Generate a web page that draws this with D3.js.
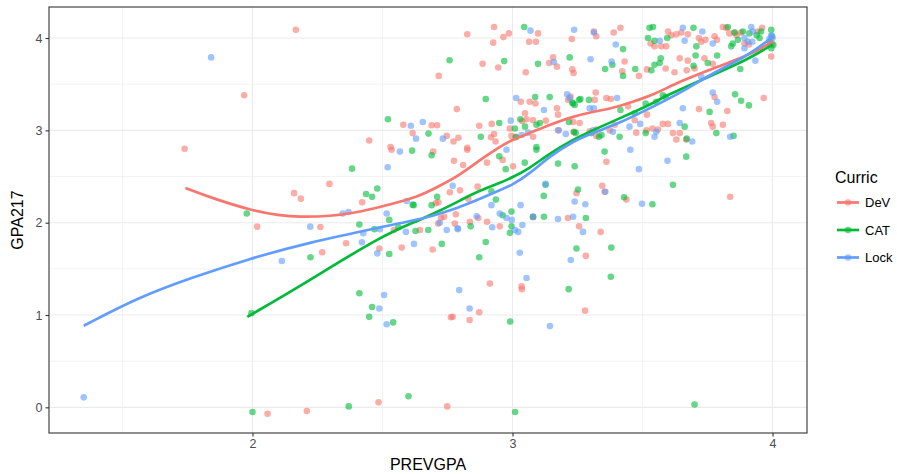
<!DOCTYPE html>
<html><head><meta charset="utf-8">
<script src="https://cdn.jsdelivr.net/npm/d3@7"></script>
<style>body{margin:0;background:#fff}svg{display:block;font-family:"Liberation Sans",Arial,Helvetica,sans-serif}</style>
</head><body><svg id="c" width="897" height="474"></svg>
<script>
const categories = ["DeV","CAT","Lock"];
const colors = ["#F8766D","#00BA38","#619CFF"];
const xTicks = [2,3,4];
const yTicks = [0,1,2,3,4];
const xTitle = "PREVGPA", yTitle = "GPA217", legendTitle = "Curric";

// scatter points [PREVGPA, GPA217]
const devPoints = [[2.167,4.09],[1.968,3.38],[1.739,2.80],[2.449,2.89],[2.296,2.42],[2.160,2.32],[2.186,2.26],[2.422,2.22],
[2.018,1.957],[2.261,1.953],[2.36,1.777],[2.268,1.68],[2.488,1.72],[2.058,-0.07],[2.209,-0.04],[2.485,0.054],
[3.036,1.28],[2.872,1.03],[3.279,1.047],[2.763,0.975],[2.77,0.98],[2.835,0.946],[2.749,0.01],
[2.535,2.79],[2.695,2.77],[2.826,2.79],[2.775,2.67],[2.81,2.625],[2.902,2.65],[2.962,2.68],[3.002,2.61],[2.759,2.33],[2.798,2.35],[2.866,2.39],[2.83,2.26],[2.705,2.21],[2.715,2.22],[2.782,2.09],[2.737,2.065],[2.725,2.05],[2.714,1.99],[2.778,1.99],[2.836,2.01],[2.868,2.05],[2.902,2.01],[2.951,1.96],[2.693,1.71],[2.574,1.73],[2.644,1.92],[2.544,1.92],[2.913,1.34],[3.035,1.31],[3.079,2.06],
[2.929,4.12],[3.098,4.05],[2.826,4.04],[2.986,4.05],[2.965,4.01],[2.926,3.95],[3.064,3.96],[3.09,3.96],[2.885,3.72],[2.945,3.68],[3.051,3.63],[2.716,3.59],[2.786,3.23],[3.032,3.31],[3.066,3.31],[3.088,3.29],[3.048,3.185],[2.58,3.06],[2.689,3.055],[2.71,3.055],[2.616,2.97],[2.747,2.94],[2.773,2.88],[2.792,2.92],[2.872,3.05],[2.92,3.07],[3.037,3.10],[3.054,3.12],[3.079,3.11],[2.99,3.02],[2.917,2.925],[2.929,2.96],[2.935,2.88],[2.996,2.94],[3.013,2.93],[3.079,2.93],[2.826,2.81],[2.531,2.82],
[3.214,3.33],[3.175,3.17],[3.171,3.24],[3.322,2.94],[3.393,3.06],[3.361,2.66],[3.246,2.32],[3.345,2.40],[3.354,2.335],[3.213,2.05],[3.339,1.90],[3.235,2.98],
[3.228,3.99],[3.313,4.07],[3.322,4.02],[3.389,4.06],[3.415,4.11],[3.156,3.79],[3.141,3.73],[3.171,3.69],[3.23,3.66],[3.235,3.62],[3.431,3.745],[3.422,3.64],[3.486,3.59],[3.531,3.94],[3.546,3.91],[3.572,3.91],[3.591,3.91],[3.598,4.07],[3.611,4.03],[3.63,4.04],[3.517,3.66],[3.589,3.67],[3.623,3.63],[3.128,3.105],[3.223,3.365],[3.32,3.41],[3.316,3.33],[3.361,3.35],[3.378,3.34],[3.444,3.26],[3.47,3.11],[3.517,3.17],[3.297,2.99],[3.322,3.01],[3.374,3.00],[3.476,2.975],[3.515,3.00],[3.538,3.02],[3.559,3.01],[3.578,3.07],[3.598,3.07],[3.617,2.97],[3.63,2.90],[3.175,3.00],[3.233,3.09],[3.258,3.08],
[3.649,4.06],[3.674,4.04],[3.717,4.0],[3.726,3.96],[3.742,3.98],[3.777,4.02],[3.786,3.98],[3.809,4.12],[3.822,4.11],[3.834,4.05],[3.854,4.06],[3.862,4.03],[3.879,4.06],[3.892,3.94],[3.909,3.93],[3.943,4.07],[3.96,4.11],[3.998,3.94],[3.995,3.80],[3.643,3.78],[3.674,3.755],[3.70,3.67],[3.738,3.78],[3.77,3.72],[3.67,3.65],[3.777,3.36],[3.966,3.35],[3.717,3.23],[3.826,3.21],[3.764,3.08],[3.77,3.04],[3.809,3.06],[3.643,2.97],[3.668,2.90],
[3.438,2.25],[3.256,1.96],[3.282,1.64],[3.837,2.28]];

const catPoints = [[2.383,2.585],[2.437,2.31],[2.46,2.28],[2.48,2.37],[1.978,2.10],
[2.411,1.98],[2.469,1.93],[2.223,1.625],[2.411,1.235],[2.46,1.087],[2.449,0.98],[2.0,-0.05],[2.37,0.01],[1.996,1.02],
[2.60,0.12],[3.01,-0.05],[3.70,0.03],[3.216,1.28],[2.541,0.92],[2.991,0.93],
[2.614,2.78],[2.689,2.73],[2.949,2.72],[3.047,2.65],[2.974,2.58],[3.092,2.79],[2.71,2.28],[2.616,2.195],[2.62,2.19],[2.689,2.19],[2.839,1.96],[2.936,2.25],[2.919,2.34],[2.962,2.08],[2.996,2.12],[2.996,1.96],[2.99,1.89],[3.079,2.065],[2.897,1.79],[2.872,1.625],[2.728,1.77],[2.526,1.66],[2.627,1.91],[2.676,1.92],[2.561,1.95],[2.526,2.03],
[3.045,4.12],[2.758,3.76],[2.968,3.75],[3.098,3.72],[2.897,3.34],[3.087,3.36],[2.521,3.12],[2.677,2.965],[2.949,3.08],[3.009,3.02],[3.048,3.04],[2.878,2.93],[3.013,2.925],[3.092,2.82],
[3.03,3.12],[3.092,3.06],[3.105,3.08],[3.233,3.29],[3.239,3.275],[3.256,3.33],[3.217,3.09],[3.237,2.985],[3.243,2.97],[3.303,2.97],[3.342,2.95],[3.354,2.77],[3.175,2.64],[3.239,2.61],[3.127,2.41],[3.252,2.36],[3.12,2.29],[3.121,2.065],[3.282,2.05],
[3.425,3.88],[3.22,3.79],[3.356,3.665],[3.384,3.71],[3.425,3.59],[3.472,3.665],[3.527,4.11],[3.54,4.12],[3.521,4.0],[3.546,3.97],[3.595,4.0],[3.57,3.78],[3.566,3.73],[3.546,3.71],[3.534,3.65],[3.143,3.36],[3.23,3.30],[3.261,3.34],[3.294,3.33],[3.415,3.22],[3.47,3.185],[3.512,3.29],[3.553,3.31],[3.578,3.38],[3.589,3.36],[3.412,2.93],[3.512,2.97],[3.333,2.93],
[3.696,4.11],[3.707,3.91],[3.828,4.12],[3.854,4.06],[3.886,4.07],[3.911,4.05],[3.956,4.07],[3.867,3.98],[3.847,3.94],[3.841,3.91],[3.939,4.03],[3.95,4.00],[3.995,4.09],[3.998,4.02],[3.99,3.96],[4.003,3.925],[3.995,3.89],[3.876,3.665],[3.704,3.81],[3.751,3.73],[3.787,3.81],[3.696,3.70],[3.856,3.39],[3.879,3.32],[3.909,3.27],[3.758,3.20],[3.662,3.04],[3.784,2.97],[3.67,2.91],[3.85,2.94],
[3.429,2.275],[3.538,2.20],[3.617,2.41],[3.246,1.72],[3.38,1.73],[3.378,1.415],[3.668,2.715]];

const lockPoints = [[1.841,3.79],[2.347,2.10],[2.369,2.115],
[2.222,1.957],[2.426,1.885],[2.421,1.788],[2.113,1.585],[2.48,1.668],[2.488,1.07],[1.351,0.108],
[2.506,1.217],[2.795,1.27],[2.835,1.07],[2.516,0.9],[3.144,0.88],
[2.567,2.77],[2.52,2.60],[2.977,2.79],[2.77,2.40],[2.593,2.235],[2.72,2.0],[2.789,1.94],[2.79,1.93],[2.747,1.92],[2.862,2.07],[2.919,2.19],[2.922,1.95],[2.951,2.10],[2.977,2.05],[2.997,2.03],[3.009,1.92],[3.022,1.90],[3.031,2.19],[3.038,1.975],[3.028,1.675],[2.621,1.77],[2.59,1.90],[2.516,2.10],[2.49,1.93],[3.054,1.40],
[3.069,4.08],[3.014,3.35],[2.609,3.05],[2.655,3.09],[2.629,2.91],[2.732,2.91],[2.993,3.105],[3.035,2.95],[3.06,2.975],
[3.121,3.22],[3.297,3.24],[3.313,3.24],[3.178,3.00],[3.205,2.96],[3.31,3.00],[3.386,2.985],[3.239,2.23],[3.28,2.20],[3.079,2.065],[3.233,2.065],[3.175,2.04],[3.271,1.90],[3.127,2.42],
[3.237,4.09],[3.313,4.06],[3.397,3.93],[3.159,3.74],[3.30,3.77],[3.381,3.745],[3.566,3.97],[3.21,3.39],[3.22,3.35],[3.402,3.35],[3.45,3.04],[3.491,3.07],[3.553,2.985],[3.546,2.93],[3.453,2.79],
[3.655,4.11],[3.662,3.97],[3.73,4.07],[3.77,3.94],[3.892,4.00],[3.905,3.96],[3.918,4.12],[3.924,4.07],[3.892,3.89],[3.922,3.96],[3.995,4.03],[4.0,4.0],[3.988,3.99],[3.934,3.755],[3.726,3.58],[3.77,3.41],[3.787,3.31],[3.655,3.24],[3.643,3.08],[3.691,2.88],[3.837,2.93],
[3.596,2.67],[3.486,2.58],[3.357,2.335],[3.498,2.205],[3.224,1.595]];

// loess smooth curves
const devSmooth = [[1.742,2.376],[1.85,2.26],[2.0,2.13],[2.10,2.08],[2.18,2.06],[2.30,2.07],[2.40,2.11],[2.49,2.17],[2.64,2.28],[2.72,2.40],[2.80,2.52],[2.875,2.68],[2.95,2.82],[3.0,2.90],[3.066,2.97],[3.143,3.06],[3.232,3.15],[3.308,3.20],[3.385,3.24],[3.462,3.31],[3.539,3.38],[3.643,3.53],[3.769,3.67],[3.90,3.80],[3.988,3.94],[4.0,3.96]];
const catSmooth = [[1.98,0.98],[2.2,1.34],[2.49,1.85],[2.644,2.03],[2.721,2.13],[2.798,2.24],[2.875,2.35],[2.951,2.43],[3.0,2.49],[3.066,2.59],[3.143,2.75],[3.232,2.90],[3.308,3.00],[3.412,3.13],[3.539,3.29],[3.58,3.36],[3.643,3.44],[3.769,3.60],[3.90,3.76],[4.0,3.93]];
const lockSmooth = [[1.351,0.884],[1.569,1.20],[1.761,1.40],[2.0,1.62],[2.21,1.78],[2.49,1.95],[2.68,2.06],[2.721,2.10],[2.798,2.17],[2.875,2.26],[2.951,2.35],[3.0,2.41],[3.066,2.53],[3.143,2.72],[3.232,2.88],[3.308,2.97],[3.412,3.08],[3.50,3.20],[3.643,3.40],[3.769,3.62],[3.90,3.80],[3.99,3.99],[4.0,4.01]];

const pointSets = [devPoints, catPoints, lockPoints];
const smoothSets = [devSmooth, catSmooth, lockSmooth];

const svg = d3.select("#c");
const P = {l:49, t:7, r:807, b:433};
const x = d3.scaleLinear().domain([1.2175, 4.1325]).range([P.l, P.r]);
const y = d3.scaleLinear().domain([-0.278, 4.336]).range([P.b, P.t]);

const g = svg.append("g");
g.append("rect").attr("x",P.l).attr("y",P.t).attr("width",P.r-P.l).attr("height",P.b-P.t).attr("fill","#fff");
// minor grid
const xMinor = [1.5,2.5,3.5], yMinor = [0.5,1.5,2.5,3.5];
g.selectAll(".xm").data(xMinor).join("line").attr("x1",d=>x(d)).attr("x2",d=>x(d)).attr("y1",P.t).attr("y2",P.b).attr("stroke","#EBEBEB").attr("stroke-width",0.6);
g.selectAll(".ym").data(yMinor).join("line").attr("y1",d=>y(d)).attr("y2",d=>y(d)).attr("x1",P.l).attr("x2",P.r).attr("stroke","#EBEBEB").attr("stroke-width",0.6);
g.selectAll(".xM").data(xTicks).join("line").attr("x1",d=>x(d)).attr("x2",d=>x(d)).attr("y1",P.t).attr("y2",P.b).attr("stroke","#EBEBEB").attr("stroke-width",1.1);
g.selectAll(".yM").data(yTicks).join("line").attr("y1",d=>y(d)).attr("y2",d=>y(d)).attr("x1",P.l).attr("x2",P.r).attr("stroke","#EBEBEB").attr("stroke-width",1.1);

// points
pointSets.forEach((pts,i)=>{
  g.append("g").selectAll("circle").data(pts).join("circle")
    .attr("cx",d=>x(d[0])).attr("cy",d=>y(d[1])).attr("r",3.3)
    .attr("fill",colors[i]).attr("fill-opacity",0.6);
});
// smooth lines
const line = d3.line().x(d=>x(d[0])).y(d=>y(d[1])).curve(d3.curveBasis);
smoothSets.forEach((s,i)=>{
  g.append("path").datum(s).attr("d",line).attr("fill","none").attr("stroke",colors[i]).attr("stroke-width",2.7);
});
// border
g.append("rect").attr("x",P.l).attr("y",P.t).attr("width",P.r-P.l).attr("height",P.b-P.t).attr("fill","none").attr("stroke","#333").attr("stroke-width",1.1);

// axes
const xa = svg.append("g").attr("transform",`translate(0,${P.b})`).call(d3.axisBottom(x).tickValues(xTicks).tickSize(3.5).tickPadding(3).tickFormat(d3.format("d")));
const ya = svg.append("g").attr("transform",`translate(${P.l},0)`).call(d3.axisLeft(y).tickValues(yTicks).tickSize(3.5).tickPadding(3).tickFormat(d3.format("d")));
[xa,ya].forEach(a=>{
  a.select(".domain").remove();
  a.selectAll(".tick line").attr("stroke","#333").attr("stroke-width",1.1);
  a.selectAll(".tick text").attr("fill","#4D4D4D").style("font-size","12.5px").style("font-family","'Liberation Sans',Arial,sans-serif");
});
svg.append("text").attr("x",(P.l+P.r)/2).attr("y",470).attr("text-anchor","middle").style("font-size","16px").attr("fill","#000").text(xTitle);
svg.append("text").attr("transform",`translate(23,${(P.t+P.b)/2}) rotate(-90)`).attr("text-anchor","middle").style("font-size","16px").attr("fill","#000").text(yTitle);

// legend
const lg = svg.append("g");
lg.append("text").attr("x",835).attr("y",183).style("font-size","16px").text(legendTitle);
categories.forEach((c,i)=>{
  const yy = 202.5 + i*27.5;
  lg.append("line").attr("x1",837).attr("x2",859).attr("y1",yy).attr("y2",yy).attr("stroke",colors[i]).attr("stroke-width",2.7);
  lg.append("circle").attr("cx",848).attr("cy",yy).attr("r",3.3).attr("fill",colors[i]).attr("fill-opacity",0.6);
  lg.append("text").attr("x",865).attr("y",yy).attr("dy","0.35em").style("font-size","13px").text(c);
});
</script></body></html>
